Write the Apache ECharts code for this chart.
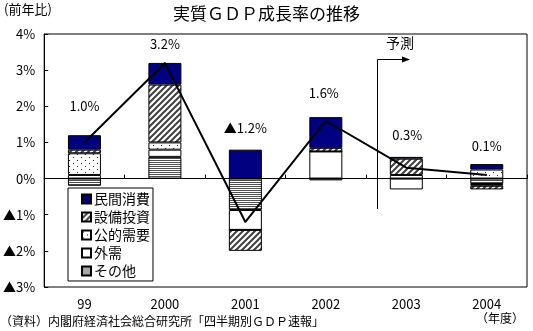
<!DOCTYPE html>
<html>
<head>
<meta charset="utf-8">
<script src="https://cdn.jsdelivr.net/npm/echarts@6/dist/echarts.min.js"></script>
<style>
  html, body { margin: 0; padding: 0; background: #fff; }
  #chart { width: 533px; height: 331px; }
</style>
</head>
<body>
<div id="chart"></div>
<script>
// Fiscal years and contributions to real GDP growth (percentage points)
const categories = ['99', '2000', '2001', '2002', '2003', '2004'];
const privateConsumption = [0.4, 0.6, 0.8, 0.85, 0.05, 0.15];   // 民間消費
const businessInvestment = [0.1, 1.6, -0.58, 0.1, 0.45, -0.1];  // 設備投資
const publicDemand = [0.6, 0.2, 0, 0, 0.1, 0.25];               // 公的需要
const externalDemand = [0.1, 0.2, -0.55, 0.75, -0.3, -0.05];    // 外需
const otherItems = [-0.2, 0.6, -0.87, -0.05, 0, -0.15];         // その他
const gdpGrowth = [1.0, 3.2, -1.2, 1.6, 0.3, 0.1];              // 実質GDP成長率
const yTicks = [-3, -2, -1, 0, 1, 2, 3, 4];

// growth-rate label placement relative to each point (px)
const labelOffsets = [[0, -36], [0, -19], [0, -94], [-2, -28], [1, -33], [0, -29]];

const FONT = '"Noto Sans CJK JP", "Noto Sans", sans-serif';

function makePattern(w, h, draw) {
  const c = document.createElement('canvas');
  c.width = w; c.height = h;
  const ctx = c.getContext('2d');
  ctx.fillStyle = '#ffffff';
  ctx.fillRect(0, 0, w, h);
  draw(ctx);
  return { image: c, repeat: 'repeat' };
}

const hatchFill = makePattern(6, 6, ctx => {
  ctx.strokeStyle = '#404040';
  ctx.lineWidth = 2;
  ctx.beginPath();
  ctx.moveTo(-1, 7); ctx.lineTo(7, -1);
  ctx.moveTo(-1, 1); ctx.lineTo(1, -1);
  ctx.moveTo(5, 7); ctx.lineTo(7, 5);
  ctx.stroke();
});

const dotFill = makePattern(8, 6, ctx => {
  ctx.fillStyle = '#222';
  ctx.fillRect(1, 1, 1, 1);
  ctx.fillRect(5, 4, 1, 1);
});

const stripeFill = makePattern(2, 2, ctx => {
  ctx.fillStyle = '#505050';
  ctx.fillRect(0, 0, 2, 1);
});

// axis ticks: whole percents, negatives marked with ▲
function fmtTick(v) {
  return v < 0 ? '▲' + Math.abs(v) + '%' : v + '%';
}
// growth labels: one decimal place
function fmtRate(v) {
  return (v < 0 ? '▲' : '') + Math.abs(v).toFixed(1) + '%';
}

function barSeries(name, data, fill) {
  return {
    name: name,
    type: 'bar',
    stack: 'contrib',
    xAxisIndex: 0,
    barWidth: 33,
    data: data,
    itemStyle: { color: fill, borderColor: '#000', borderWidth: 1 },
    emphasis: { disabled: true }
  };
}

const chart = echarts.init(document.getElementById('chart'), null, { renderer: 'canvas' });

chart.setOption({
  animation: false,
  backgroundColor: '#fff',
  textStyle: { fontFamily: FONT, color: '#000' },
  grid: {
    left: 42, right: 6, top: 34, bottom: 44,
    show: true, borderColor: '#000', borderWidth: 1, backgroundColor: '#fff'
  },
  legend: {
    orient: 'vertical',
    left: 68, top: 188,
    backgroundColor: '#fff',
    borderColor: '#000', borderWidth: 1, borderRadius: 0,
    padding: [4, 3, 3, 13],
    itemWidth: 9, itemHeight: 9, itemGap: 4,
    icon: 'rect',
    textStyle: { fontFamily: FONT, fontSize: 14, color: '#000', padding: [0, 0, 0, -2] },
    data: ['民間消費', '設備投資', '公的需要', '外需', 'その他']
  },
  xAxis: [
    {
      type: 'category',
      data: categories,
      position: 'bottom',
      axisLine: { onZero: true, lineStyle: { color: '#000', width: 1 } },
      axisTick: { show: true, inside: true, length: 4, lineStyle: { color: '#000' } },
      axisLabel: { show: false },
      splitLine: { show: false }
    },
    {
      type: 'category',
      data: categories,
      position: 'bottom',
      axisLine: { show: false, onZero: false },
      axisTick: { show: false },
      axisLabel: { show: true, margin: 11, fontSize: 13, fontFamily: FONT, color: '#000' },
      splitLine: { show: false }
    }
  ],
  yAxis: {
    type: 'value',
    min: yTicks[0], max: yTicks[yTicks.length - 1], interval: 1,
    axisLine: { show: true, lineStyle: { color: '#000' } },
    axisTick: { show: true, inside: true, length: 4, lineStyle: { color: '#000' } },
    axisLabel: { margin: 9, fontSize: 13, fontFamily: FONT, color: '#000', formatter: fmtTick },
    splitLine: { show: false }
  },
  series: [
    barSeries('その他', otherItems, stripeFill),
    barSeries('外需', externalDemand, '#ffffff'),
    barSeries('公的需要', publicDemand, dotFill),
    barSeries('設備投資', businessInvestment, hatchFill),
    barSeries('民間消費', privateConsumption, '#000080'),
    {
      name: '実質GDP成長率',
      type: 'line',
      xAxisIndex: 0,
      z: 5,
      symbol: 'circle',
      symbolSize: 1,
      itemStyle: { color: '#000' },
      lineStyle: { color: '#000', width: 2 },
      emphasis: { disabled: true },
      data: gdpGrowth.map((v, i) => ({
        value: v,
        label: {
          show: true,
          position: 'inside',
          offset: labelOffsets[i],
          formatter: fmtRate(v),
          fontFamily: FONT,
          fontSize: 13,
          color: '#000'
        }
      }))
    }
  ],
  graphic: [
    {
      type: 'text', left: 'center', top: 5,
      style: { text: '実質ＧＤＰ成長率の推移', font: '17px ' + FONT, fill: '#000' }
    },
    {
      type: 'text', left: 4, top: 3,
      style: { text: '(前年比)', font: '13px ' + FONT, fill: '#000' }
    },
    {
      type: 'text', left: 0, top: 315,
      style: { text: '（資料）内閣府経済社会総合研究所「四半期別ＧＤＰ速報」', font: '12px ' + FONT, fill: '#000' }
    },
    {
      type: 'text', left: 476, top: 312,
      style: { text: '（年度）', font: '12px ' + FONT, fill: '#000' }
    },
    // forecast marker
    {
      type: 'text', left: 386, top: 36,
      style: { text: '予測', font: '14px ' + FONT, fill: '#000' }
    },
    {
      type: 'polyline',
      shape: { points: [[377.5, 209], [377.5, 59.5], [404, 59.5]] },
      style: { stroke: '#000', lineWidth: 1, fill: null }
    },
    {
      type: 'polygon',
      shape: { points: [[402, 56.5], [410, 59.5], [402, 62.5]] },
      style: { fill: '#000' }
    }
  ]
});
</script>
</body>
</html>
